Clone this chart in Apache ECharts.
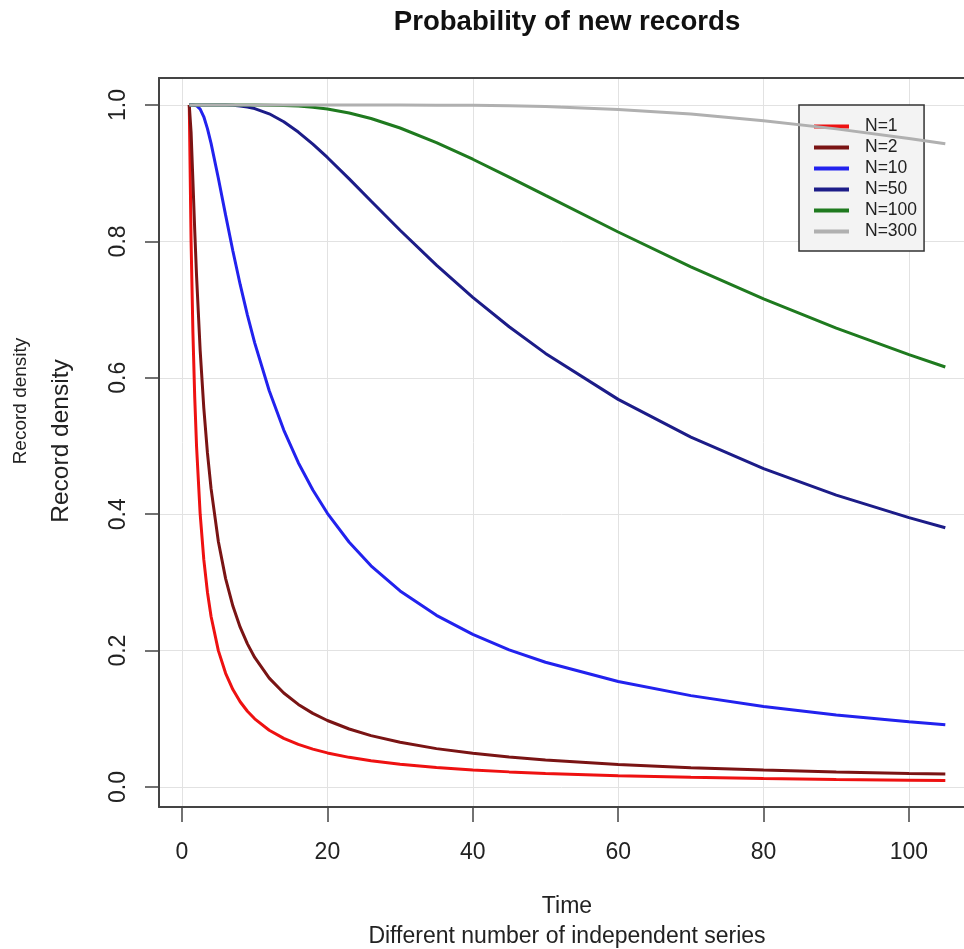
<!DOCTYPE html>
<html>
<head>
<meta charset="utf-8">
<script src="https://cdn.jsdelivr.net/npm/echarts@6/dist/echarts.min.js"></script>
<style>html,body{margin:0;padding:0;background:#fff;}#c{width:964px;height:949px;}</style>
</head>
<body>
<div id="c"></div>
<script>
// Time points (x) and record density per number of series
const T = [1,1.25,1.5,1.75,2,2.5,3,3.5,4,5,6,7,8,9,10,12,14,16,18,20,23,26,30,35,40,45,50,60,70,80,90,100,105];
const N1 = [1,.8,.6667,.5714,.5,.4,.3333,.2857,.25,.2,.1667,.1429,.125,.1111,.1,.0833,.0714,.0625,.0556,.05,.0435,.0385,.0333,.0286,.025,.0222,.02,.0167,.0143,.0125,.0111,.01,.0095];
const N2 = [1,.96,.8889,.8163,.75,.64,.5556,.4898,.4375,.36,.3056,.2653,.2344,.2099,.19,.1597,.1378,.1211,.1080,.0975,.0851,.0754,.0656,.0563,.0494,.0439,.0396,.0331,.0284,.0248,.0221,.0199,.0190];
const N10 = [1,1,1,.9998,.999,.994,.9827,.9654,.9437,.8926,.8385,.7859,.7369,.6920,.6513,.5811,.5234,.4755,.4354,.4013,.3589,.3244,.2875,.2517,.2237,.2012,.1829,.1547,.1340,.1182,.1057,.0956,.0913];
const N50 = [1,1,1,1,1,1,1,1,1,1,.9999,.9996,.9987,.9972,.9948,.9871,.9754,.9603,.9426,.9231,.8917,.8593,.8164,.7653,.7180,.6749,.6358,.5684,.5130,.4668,.4280,.3950,.3802];
const N100 = [1,1,1,1,1,1,1,1,1,1,1,1,1,1,1,.9998,.9994,.9984,.9967,.9941,.9883,.9802,.9663,.9449,.9205,.8943,.8674,.8138,.7628,.7157,.6728,.6340,.6159];
const N300 = [1,1,1,1,1,1,1,1,1,1,1,1,1,1,1,1,1,1,1,1,1,1,1,.9998,.9995,.9988,.9977,.9935,.9867,.9770,.9650,.9510,.9433];
const seriesNames = ['N=1','N=2','N=10','N=50','N=100','N=300'];
const seriesColors = ['#ee1111','#7a1414','#2222ee','#1c1c88','#1f7a1f','#b0b0b0'];
const xTicks = [0,20,40,60,80,100];
const yTicks = [0,0.2,0.4,0.6,0.8,1.0];

const FONT = '"Liberation Sans", Arial, Helvetica, sans-serif';
const allData = [N1,N2,N10,N50,N100,N300];
const XMIN = -3.164, XMAX = 107.57;

const chart = echarts.init(document.getElementById('c'), null, {renderer:'canvas'});
chart.setOption({
  animation: false,
  backgroundColor: '#fff',
  grid: {left:159, top:78, right:0, bottom:142, show:false, containLabel:false},
  xAxis: [{
    type:'value', min:XMIN, max:XMAX, position:'bottom',
    axisLine:{show:true, onZero:false, lineStyle:{color:'#444', width:2}},
    axisTick:{show:true, length:15, customValues:xTicks, lineStyle:{color:'#444', width:1.5}},
    axisLabel:{customValues:xTicks, margin:34, fontSize:23, color:'#222', fontFamily:FONT},
    splitLine:{show:true, lineStyle:{color:'#e2e2e2', width:1}}
  },{
    type:'value', min:XMIN, max:XMAX, position:'top',
    axisLine:{show:true, onZero:false, lineStyle:{color:'#444', width:2}},
    axisTick:{show:false}, axisLabel:{show:false}, splitLine:{show:false}
  }],
  yAxis: {
    type:'value', min:-0.0293, max:1.0396, position:'left',
    axisLine:{show:true, onZero:false, lineStyle:{color:'#444', width:2}},
    axisTick:{show:true, length:14, customValues:yTicks, lineStyle:{color:'#444', width:1.5}},
    axisLabel:{customValues:yTicks, margin:29, rotate:90, fontSize:23, color:'#222', fontFamily:FONT,
      formatter:v=>v.toFixed(1)},
    splitLine:{show:true, lineStyle:{color:'#e2e2e2', width:1}}
  },
  legend: {
    orient:'vertical', left:799, top:105,
    padding:[11,7,9,15], itemGap:0, itemWidth:35, itemHeight:21,
    backgroundColor:'#f3f3f3', borderColor:'#333', borderWidth:1.5, borderRadius:0,
    textStyle:{fontSize:17.5, color:'#222', fontFamily:FONT, padding:[0,0,0,11], lineHeight:21},
    data: seriesNames.map(n=>({name:n, icon:'path://M0,0 L35,0 L35,4 L0,4 Z'}))
  },
  series: seriesNames.map((n,i)=>({
    name:n, type:'line', symbol:'none', smooth:false, xAxisIndex:0,
    data: T.map((t,j)=>[t, allData[i][j]]),
    lineStyle:{color:seriesColors[i], width:3},
    itemStyle:{color:seriesColors[i]},
    z: 2+i
  })),
  graphic: [
    {type:'text', x:567, y:22, style:{text:'Probability of new records', font:'bold 27.6px '+FONT, fill:'#111', textAlign:'center', textVerticalAlign:'middle'}},
    {type:'text', x:567, y:907, style:{text:'Time', font:'23px '+FONT, fill:'#222', textAlign:'center', textVerticalAlign:'middle'}},
    {type:'text', x:567, y:937, style:{text:'Different number of independent series', font:'23px '+FONT, fill:'#222', textAlign:'center', textVerticalAlign:'middle'}},
    {type:'text', x:61, y:441, rotation:Math.PI/2, style:{text:'Record density', font:'24.5px '+FONT, fill:'#222', textAlign:'center', textVerticalAlign:'middle'}},
    {type:'text', x:21, y:401, rotation:Math.PI/2, style:{text:'Record density', font:'19px '+FONT, fill:'#222', textAlign:'center', textVerticalAlign:'middle'}}
  ]
});
</script>
</body>
</html>
